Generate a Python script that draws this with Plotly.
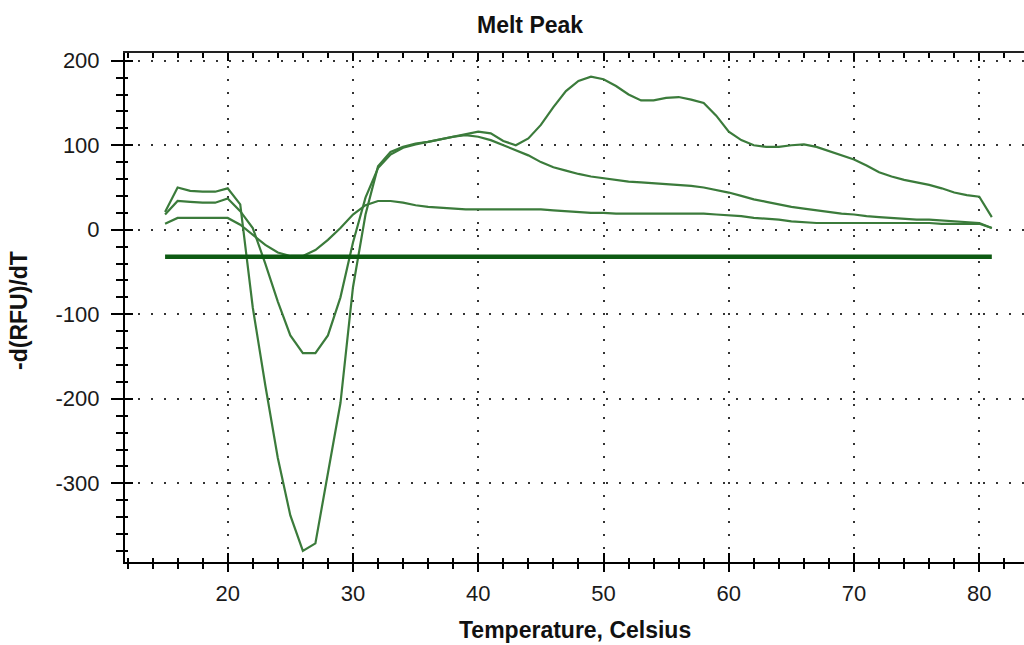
import plotly.graph_objects as go

# ---------------- data ----------------
temperature = list(range(15, 82))

curve_deep = [21, 50, 46, 45, 45, 49, 30, -92, -184, -270, -338, -380, -371, -288, -205, -68, 18, 75, 92,
              98, 102, 104, 107, 110, 113, 116, 114, 105, 100, 108, 124, 145, 164, 176, 181, 178, 170, 160,
              153, 153, 156, 157, 154, 150, 135, 116, 106, 100, 98, 98, 100, 101, 98, 93, 88, 83, 76, 68,
              63, 59, 56, 53, 49, 44, 41, 39, 15]

curve_mid = [18, 34, 33, 32, 32, 37, 22, 2, -40, -85, -125, -146, -146, -125, -80, -15, 38, 73, 89,
             97, 101, 104, 107, 110, 112, 110, 106, 100, 94, 88, 80, 74, 70, 66, 63, 61, 59, 57,
             56, 55, 54, 53, 52, 50, 47, 44, 40, 36, 33, 30, 27, 25, 23, 21, 19, 18, 16, 15,
             14, 13, 12, 12, 11, 10, 9, 8, 2]

curve_low = [7, 14, 14, 14, 14, 14, 6, -6, -18, -27, -31, -31, -24, -12, 2, 18, 29, 34, 34,
             32, 29, 27, 26, 25, 24, 24, 24, 24, 24, 24, 24, 23, 22, 21, 20, 20, 19, 19,
             19, 19, 19, 19, 19, 19, 18, 17, 16, 14, 13, 12, 10, 9, 8, 8, 8, 8, 8, 8,
             8, 8, 8, 8, 7, 7, 7, 7, 2]

threshold_x = [15, 81]
threshold_y = [-32, -32]

x_tickvals = [20, 30, 40, 50, 60, 70, 80]
x_ticktext = ["20", "30", "40", "50", "60", "70", "80"]
y_tickvals = [-300, -200, -100, 0, 100, 200]
y_ticktext = ["-300", "-200", "-100", "0", "100", "200"]

x_range = [11.8, 83.57]
y_range = [-393.1, 209.1]

# ---------------- figure ----------------
curve_color = "#3b7b3b"
fig = go.Figure()
for ys in (curve_low, curve_mid, curve_deep):
    fig.add_trace(go.Scatter(x=temperature, y=ys, mode="lines",
                             line=dict(color=curve_color, width=2.2),
                             showlegend=False, hoverinfo="skip"))
# threshold line drawn on the overlay axes (same ranges) so the inner tick marks are rendered
fig.add_trace(go.Scatter(x=threshold_x, y=threshold_y, mode="lines", xaxis="x2", yaxis="y2",
                         line=dict(color="#0d5a12", width=4.5),
                         showlegend=False, hoverinfo="skip"))
fig.add_trace(go.Scatter(x=[], y=[], xaxis="x3", yaxis="y", showlegend=False, hoverinfo="skip"))

tick_font = dict(family="Liberation Sans, Arial, sans-serif", size=22, color="#1a1a1a")
title_font = dict(family="Liberation Sans, Arial, sans-serif", size=23, color="#111111")

fig.update_layout(
    width=1024, height=645,
    margin=dict(l=125, r=0, t=53, b=83),
    plot_bgcolor="white", paper_bgcolor="white",
    xaxis=dict(range=x_range, tickmode="array", tickvals=x_tickvals, ticktext=x_ticktext,
               showline=True, linecolor="black", linewidth=2,
               ticks="outside", ticklen=8, tickwidth=2, tickcolor="black",
               minor=dict(ticks="outside", ticklen=5, tickwidth=2, tickcolor="black",
                          tickmode="linear", tick0=0, dtick=2, showgrid=False),
               showgrid=True, gridcolor="#333333", gridwidth=2, griddash="2px,11px",
               zeroline=False, tickfont=tick_font, ticklabelstandoff=3),
    xaxis2=dict(range=x_range, overlaying="x", side="bottom", anchor="y2",
                showline=False, showticklabels=False, showgrid=False, zeroline=False,
                tickmode="array", tickvals=x_tickvals,
                ticks="inside", ticklen=9, tickwidth=2, tickcolor="black",
                minor=dict(ticks="inside", ticklen=4, tickwidth=2, tickcolor="black",
                           tickmode="linear", tick0=0, dtick=2, showgrid=False)),
    xaxis3=dict(range=x_range, overlaying="x", side="top", anchor="y",
                showline=True, linecolor="#222222", linewidth=2,
                showticklabels=False, showgrid=False, zeroline=False,
                tickmode="array", tickvals=x_tickvals,
                ticks="inside", ticklen=8, tickwidth=2, tickcolor="black",
                minor=dict(ticks="inside", ticklen=5, tickwidth=2, tickcolor="black",
                           tickmode="linear", tick0=0, dtick=2, showgrid=False)),
    yaxis=dict(range=y_range, tickmode="array", tickvals=y_tickvals, ticktext=y_ticktext,
               showline=True, linecolor="black", linewidth=2,
               ticks="outside", ticklen=12, tickwidth=2, tickcolor="black",
               minor=dict(ticks="outside", ticklen=7, tickwidth=2, tickcolor="black",
                          tickmode="linear", tick0=0, dtick=20, showgrid=False),
               showgrid=True, gridcolor="#333333", gridwidth=2, griddash="2px,11px",
               zeroline=False, tickfont=tick_font, ticklabelstandoff=7),
    yaxis2=dict(range=y_range, overlaying="y", side="left", anchor="x2",
                showline=False, showticklabels=False, showgrid=False, zeroline=False,
                tickmode="array", tickvals=y_tickvals,
                ticks="inside", ticklen=8, tickwidth=2, tickcolor="black",
                minor=dict(ticks="inside", ticklen=3, tickwidth=2, tickcolor="black",
                           tickmode="linear", tick0=0, dtick=20, showgrid=False)),
    annotations=[
        dict(text="<b>Melt Peak</b>", xref="paper", yref="paper", x=0.45, y=1.055,
             xanchor="center", yanchor="middle", showarrow=False, font=title_font),
        dict(text="<b>Temperature, Celsius</b>", xref="paper", yref="paper", x=0.5006, y=-0.1336,
             xanchor="center", yanchor="middle", showarrow=False, font=title_font),
        dict(text="<b>-d(RFU)/dT</b>", xref="paper", yref="paper", x=-0.118, y=0.495,
             xanchor="center", yanchor="middle", showarrow=False, textangle=-90, font=title_font),
    ],
)

fig.write_html("out.html")
